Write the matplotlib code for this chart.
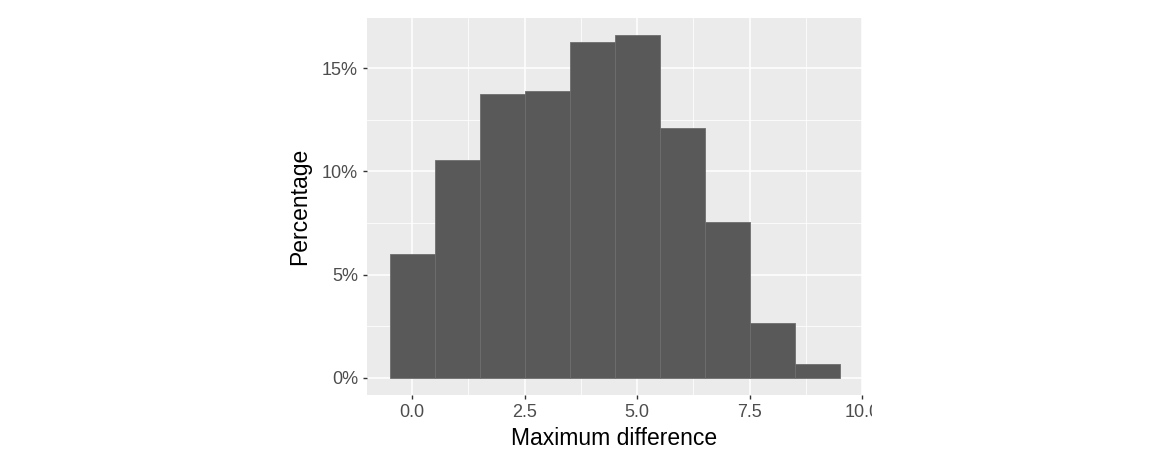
import matplotlib
matplotlib.use("Agg")
import matplotlib.pyplot as plt
from matplotlib.transforms import Bbox, TransformedBbox, IdentityTransform

# histogram of maximum difference, bins of width 1 centred on integers
bin_centers = [0, 1, 2, 3, 4, 5, 6, 7, 8, 9]
percentages = [6.02, 10.53, 13.73, 13.91, 16.25, 16.60, 12.08, 7.53, 2.65, 0.65]
x_ticks = [0, 2.5, 5, 7.5, 10]
x_ticklabels = ["0.0", "2.5", "5.0", "7.5", "10.0"]
y_ticks = [0, 5, 10, 15]
y_ticklabels = ["0%", "5%", "10%", "15%"]

plt.rcParams['font.family'] = ['Liberation Sans', 'DejaVu Sans']

fig = plt.figure(figsize=(11.5, 4.65), dpi=100)
ax = fig.add_axes([367 / 1150, 70 / 465, 495 / 1150, 377 / 465])
ax.set_facecolor('#EBEBEB')

# grid lines, ggplot style
for v in [-1.25, 1.25, 3.75, 6.25, 8.75]:
    ax.axvline(v, color='white', lw=0.55, zorder=0)
for v in [2.5, 7.5, 12.5, 17.5]:
    ax.axhline(v, color='white', lw=0.55, zorder=0)
for v in x_ticks:
    ax.axvline(v, color='white', lw=1.1, zorder=0)
for v in y_ticks:
    ax.axhline(v, color='white', lw=1.1, zorder=0)

ax.bar(bin_centers, percentages, width=1.0, color='#595959',
       edgecolor='#6E6E6E', linewidth=0.6, zorder=2)

top = max(percentages)
ax.set_xlim(-1.0, 10.0)
ax.set_ylim(-0.05 * top, top * 1.05)

ax.set_xticks(x_ticks)
ax.set_xticklabels(x_ticklabels)
ax.set_yticks(y_ticks)
ax.set_yticklabels(y_ticklabels)
ax.tick_params(axis='both', length=3, width=1.0, color='#333333',
               labelcolor='#4D4D4D', labelsize=13, pad=3.5)

for s in ax.spines.values():
    s.set_visible(False)

ax.set_xlabel('Maximum difference', fontsize=16.5, color='black', labelpad=4)
ax.set_ylabel('Percentage', fontsize=16.5, color='black', labelpad=8)

# the right end of the last tick label is cut off in the original
clip = TransformedBbox(Bbox([[0, 0], [872, 465]]), IdentityTransform())
for lbl in ax.get_xticklabels():
    lbl.set_clip_on(True)
    lbl.set_clip_box(clip)

fig.savefig('out.png', dpi=100)
